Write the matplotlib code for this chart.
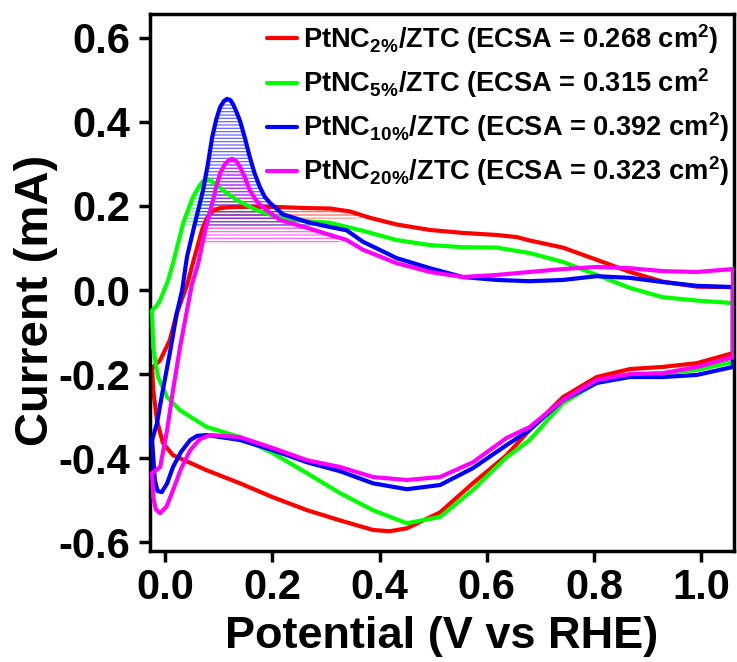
import matplotlib
matplotlib.use('Agg')
import matplotlib.pyplot as plt
from matplotlib.colors import to_rgba
import numpy as np

plt.rcParams['font.family'] = ['Liberation Sans', 'DejaVu Sans']
plt.rcParams['font.weight'] = 'bold'
plt.rcParams['axes.unicode_minus'] = False
plt.rcParams['mathtext.fontset'] = 'custom'
plt.rcParams['mathtext.rm'] = 'Liberation Sans:bold'
plt.rcParams['mathtext.bf'] = 'Liberation Sans:bold'
plt.rcParams['mathtext.it'] = 'Liberation Sans:bold'
plt.rcParams['hatch.linewidth'] = 0.9

# ---------------- data ----------------
labels = [
    r'PtNC$_{\mathbf{2\%}}$/ZTC (ECSA = 0.268 cm$^{\mathbf{2}}$)',
    r'PtNC$_{\mathbf{5\%}}$/ZTC (ECSA = 0.315 cm$^{\mathbf{2}}$',
    r'PtNC$_{\mathbf{10\%}}$/ZTC (ECSA = 0.392 cm$^{\mathbf{2}}$)',
    r'PtNC$_{\mathbf{20\%}}$/ZTC (ECSA = 0.323 cm$^{\mathbf{2}}$)',
]
colors = ['#ff0000', '#00ff00', '#0000ff', '#ff00ff']

# forward (anodic) scans
red_fwd_x = [-0.024, -0.009, 0.009, 0.022, 0.041, 0.052, 0.069, 0.077, 0.084, 0.093, 0.103, 0.120, 0.140,
             0.201, 0.265, 0.308, 0.345, 0.382, 0.432, 0.494, 0.555, 0.619, 0.656, 0.680, 0.742, 0.805,
             0.867, 0.928, 0.992, 1.059]
red_fwd_y = [-0.186, -0.167, -0.119, -0.055, 0.012, 0.064, 0.143, 0.168, 0.183, 0.191, 0.195, 0.197, 0.198,
             0.198, 0.195, 0.194, 0.187, 0.172, 0.156, 0.143, 0.136, 0.131, 0.126, 0.118, 0.101, 0.072,
             0.043, 0.020, 0.008, 0.007]
green_fwd_x = [-0.024, -0.016, -0.009, 0.006, 0.015, 0.034, 0.052, 0.065, 0.072, 0.080, 0.092, 0.108,
               0.134, 0.171, 0.214, 0.270, 0.308, 0.369, 0.432, 0.494, 0.555, 0.619, 0.680, 0.742, 0.805,
               0.867, 0.928, 0.992, 1.059]
green_fwd_y = [-0.048, -0.038, -0.024, 0.024, 0.064, 0.160, 0.221, 0.250, 0.260, 0.264, 0.255, 0.238,
               0.214, 0.190, 0.172, 0.163, 0.160, 0.141, 0.119, 0.107, 0.102, 0.101, 0.088, 0.067, 0.036,
               0.005, -0.017, -0.025, -0.031]
blue_fwd_x = [-0.024, -0.015, -0.004, 0.009, 0.022, 0.032, 0.041, 0.056, 0.071, 0.080, 0.088, 0.096,
              0.103, 0.110, 0.116, 0.122, 0.127, 0.133, 0.140, 0.149, 0.158, 0.167, 0.177, 0.186, 0.196,
              0.220, 0.265, 0.308, 0.339, 0.369, 0.432, 0.494, 0.555, 0.619, 0.680, 0.742, 0.805, 0.867,
              0.928, 0.992, 1.059]
blue_fwd_y = [-0.357, -0.317, -0.238, -0.150, -0.055, 0.000, 0.079, 0.160, 0.238, 0.300, 0.364, 0.408,
              0.436, 0.450, 0.455, 0.452, 0.442, 0.425, 0.402, 0.362, 0.317, 0.278, 0.245, 0.222, 0.207,
              0.180, 0.162, 0.150, 0.142, 0.115, 0.076, 0.052, 0.031, 0.024, 0.021, 0.024, 0.033, 0.029,
              0.019, 0.010, 0.007]
magenta_fwd_x = [-0.024, -0.009, 0.004, 0.015, 0.028, 0.041, 0.050, 0.062, 0.075, 0.088, 0.096, 0.103,
                 0.112, 0.120, 0.125, 0.132, 0.140, 0.149, 0.158, 0.170, 0.183, 0.214, 0.265, 0.308, 0.339,
                 0.369, 0.432, 0.494, 0.555, 0.619, 0.680, 0.742, 0.805, 0.867, 0.928, 0.992, 1.059]
magenta_fwd_y = [-0.436, -0.421, -0.333, -0.238, -0.136, -0.048, 0.012, 0.064, 0.143, 0.207, 0.248, 0.279,
                 0.300, 0.310, 0.312, 0.308, 0.293, 0.268, 0.238, 0.213, 0.196, 0.167, 0.148, 0.131, 0.119,
                 0.096, 0.064, 0.043, 0.031, 0.036, 0.043, 0.050, 0.055, 0.052, 0.045, 0.043, 0.050]

# reverse (cathodic) scans, from the right end back to the left
red_rev_x = [1.059, 0.992, 0.928, 0.867, 0.805, 0.742, 0.680, 0.637, 0.574, 0.513, 0.451, 0.419,
             0.388, 0.326, 0.265, 0.201, 0.140, 0.078, 0.015, -0.004, -0.015, -0.022, -0.024]
red_rev_y = [-0.150, -0.174, -0.183, -0.188, -0.207, -0.255, -0.333, -0.393, -0.460, -0.529, -0.567, -0.574,
             -0.571, -0.548, -0.524, -0.493, -0.460, -0.429, -0.393, -0.364, -0.310, -0.238, -0.186]
green_rev_x = [1.059, 0.992, 0.928, 0.867, 0.805, 0.742, 0.680, 0.637, 0.574, 0.513, 0.451, 0.388,
               0.326, 0.265, 0.201, 0.140, 0.078, 0.028, 0.004, -0.013, -0.022, -0.024]
green_rev_y = [-0.171, -0.190, -0.198, -0.202, -0.221, -0.269, -0.357, -0.398, -0.476, -0.540, -0.555, -0.524,
               -0.483, -0.436, -0.388, -0.350, -0.326, -0.286, -0.255, -0.207, -0.136, -0.052]
blue_rev_x = [1.059, 0.992, 0.928, 0.867, 0.805, 0.742, 0.680, 0.637, 0.574, 0.513, 0.451, 0.388,
              0.326, 0.265, 0.201, 0.140, 0.078, 0.060, 0.047, 0.030, 0.015, 0.004, -0.006, -0.014,
              -0.019, -0.024]
blue_rev_y = [-0.183, -0.202, -0.207, -0.207, -0.221, -0.262, -0.333, -0.369, -0.424, -0.464, -0.474, -0.460,
              -0.431, -0.410, -0.381, -0.357, -0.345, -0.347, -0.357, -0.385, -0.421, -0.460, -0.481, -0.478,
              -0.452, -0.357]
magenta_rev_x = [1.059, 0.992, 0.928, 0.867, 0.805, 0.742, 0.680, 0.637, 0.574, 0.513, 0.451, 0.388,
                 0.326, 0.265, 0.201, 0.140, 0.084, 0.065, 0.047, 0.030, 0.015, 0.003, -0.009, -0.017,
                 -0.022, -0.024]
magenta_rev_y = [-0.160, -0.183, -0.198, -0.200, -0.214, -0.262, -0.326, -0.352, -0.410, -0.445, -0.452, -0.445,
                 -0.421, -0.405, -0.376, -0.350, -0.345, -0.355, -0.381, -0.425, -0.476, -0.515, -0.531,
                 -0.522, -0.493, -0.436]

fwd = [(red_fwd_x, red_fwd_y), (green_fwd_x, green_fwd_y),
       (blue_fwd_x, blue_fwd_y), (magenta_fwd_x, magenta_fwd_y)]
rev = [(red_rev_x, red_rev_y), (green_rev_x, green_rev_y),
       (blue_rev_x, blue_rev_y), (magenta_rev_x, magenta_rev_y)]

# hatched anodic peak areas: baseline current and potential window
hatch_base = [0.170, 0.155, 0.148, 0.110]
hatch_lo = [0.00, 0.00, 0.00, 0.00]
hatch_hi = [0.37, 0.33, 0.33, 0.337]

xticks = [0.0, 0.2, 0.4, 0.6, 0.8, 1.0]
yticks = [-0.6, -0.4, -0.2, 0.0, 0.2, 0.4, 0.6]

# ---------------- figure ----------------
fig = plt.figure(figsize=(7.37, 6.62), dpi=100)
ax = fig.add_axes([0.2035, 0.1677, 0.7924, 0.8112])

for i in range(4):
    fx, fy = np.array(fwd[i][0]), np.array(fwd[i][1])
    mask = (fx >= hatch_lo[i]) & (fx <= hatch_hi[i])
    ax.fill_between(fx, fy, hatch_base[i], where=mask & (fy > hatch_base[i]), interpolate=True,
                    facecolor='none', edgecolor=to_rgba(colors[i], 0.6), hatch='-----',
                    linewidth=0, zorder=1)

for i in range(4):
    x = list(fwd[i][0]) + list(rev[i][0])
    y = list(fwd[i][1]) + list(rev[i][1])
    ax.plot(x, y, color=colors[i], lw=3.0, solid_joinstyle='round', solid_capstyle='round',
            label=labels[i], zorder=2 + i)

ax.set_xlim(-0.028, 1.061)
ax.set_ylim(-0.621, 0.657)
ax.set_xticks(xticks)
ax.set_yticks(yticks)
ax.set_xticklabels([f'{v:.1f}' for v in xticks])
ax.set_yticklabels([f'{v:.1f}' for v in yticks])

for s in ax.spines.values():
    s.set_linewidth(2.5)
ax.tick_params(direction='out', length=8, width=2.5, labelsize=30)
ax.tick_params(axis='x', pad=4)
ax.tick_params(axis='y', pad=6)

ax.set_xlabel('Potential (V vs RHE)', fontsize=32.5, fontweight='bold', labelpad=6)
ax.set_ylabel('Current (mA)', fontsize=34, fontweight='bold')
ax.yaxis.set_label_coords(-0.157, 0.467)

leg = ax.legend(loc='upper right', bbox_to_anchor=(1.005, 1.0), frameon=False, fontsize=19.6,
                handlelength=1.1, handletextpad=0.2, labelspacing=0.38, borderaxespad=0.0,
                borderpad=0.3)
for t in leg.get_texts():
    t.set_fontweight('bold')

fig.savefig('out.png', dpi=100)
